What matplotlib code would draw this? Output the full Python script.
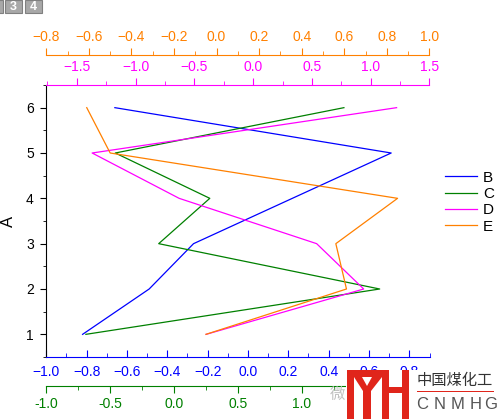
import matplotlib.pyplot as plt
from matplotlib.ticker import MultipleLocator, FuncFormatter
from matplotlib.patches import Rectangle, Polygon

plt.rcParams['font.family'] = ['Liberation Sans', 'Noto Sans CJK SC', 'DejaVu Sans']

# data: one x axis per series, A on the y axis
A = [1, 2, 3, 4, 5, 6]
B = [-0.82, -0.49, -0.27, 0.22, 0.71, -0.66]
C = [-0.69, 1.61, -0.12, 0.28, -0.46, 1.33]
D = [-0.40, 0.94, 0.54, -0.63, -1.37, 1.22]
E = [-0.05, 0.61, 0.56, 0.85, -0.50, -0.61]

BLUE = '#0000FF'
GREEN = '#008000'
MAGENTA = '#FF00FF'
ORANGE = '#FF8000'

fig = plt.figure(figsize=(4.99, 4.19), dpi=100)
W, H = 499, 419
ax = fig.add_axes([46.3 / W, 62 / H, 383.2 / W, 272 / H])

px = 0.72  # points per pixel at 100 dpi


def only_spine(a, keep, color):
    for name, sp in a.spines.items():
        sp.set_visible(name == keep)
    a.spines[keep].set_color(color)


# B on the blue bottom axis
lb, = ax.plot(B, A, color=BLUE, lw=0.9, label='B')
ax.set_xlim(-1.0, 0.9)
ax.set_ylim(0.5, 6.5)
ax.spines['top'].set_visible(False)
ax.spines['right'].set_visible(False)
ax.spines['bottom'].set_color(BLUE)
ax.xaxis.set_major_locator(MultipleLocator(0.2))
ax.xaxis.set_minor_locator(MultipleLocator(0.1))
ax.yaxis.set_major_locator(MultipleLocator(1))
ax.yaxis.set_minor_locator(MultipleLocator(0.5))
ax.tick_params(axis='x', which='both', direction='in', colors=BLUE, labelsize=10, pad=6)
ax.tick_params(axis='x', which='major', length=5)
ax.tick_params(axis='x', which='minor', length=3)
ax.tick_params(axis='y', which='major', direction='out', length=4, labelsize=10, pad=5)
ax.tick_params(axis='y', which='minor', direction='out', length=2.5)
ax.set_ylabel('A', fontsize=12)
ax.yaxis.set_label_coords(-0.079, 0.5)

# C on the green lower axis (labels past 1.0 sit under the watermark)
axc = ax.twiny()
lc, = axc.plot(C, A, color=GREEN, lw=0.9, label='C')
axc.set_xlim(-1.0, 2.0)
axc.xaxis.set_ticks_position('bottom')
axc.xaxis.set_label_position('bottom')
only_spine(axc, 'bottom', GREEN)
axc.spines['bottom'].set_position(('outward', 29 * px))
axc.xaxis.set_major_locator(MultipleLocator(0.5))
axc.xaxis.set_minor_locator(MultipleLocator(0.25))
axc.xaxis.set_major_formatter(FuncFormatter(lambda v, p: f'{v:.1f}' if v < 1.2 else ''))
axc.tick_params(axis='x', which='both', direction='out', colors=GREEN, labelsize=10, pad=3)
axc.tick_params(axis='x', which='major', length=5)
axc.tick_params(axis='x', which='minor', length=3)

# D on the magenta top axis
axd = ax.twiny()
ld, = axd.plot(D, A, color=MAGENTA, lw=0.9, label='D')
axd.set_xlim(-1.76, 1.5)
only_spine(axd, 'top', MAGENTA)
axd.xaxis.set_major_locator(MultipleLocator(0.5))
axd.xaxis.set_minor_locator(MultipleLocator(0.25))
axd.tick_params(axis='x', which='both', direction='out', colors=MAGENTA, labelsize=10, pad=3)
axd.tick_params(axis='x', which='major', length=5)
axd.tick_params(axis='x', which='minor', length=3)

# E on the orange upper axis
axe = ax.twiny()
le, = axe.plot(E, A, color=ORANGE, lw=0.9, label='E')
axe.set_xlim(-0.8, 1.0)
only_spine(axe, 'top', ORANGE)
axe.spines['top'].set_position(('outward', 30 * px))
axe.xaxis.set_major_locator(MultipleLocator(0.2))
axe.xaxis.set_minor_locator(MultipleLocator(0.1))
axe.tick_params(axis='x', which='both', direction='out', colors=ORANGE, labelsize=10, pad=3)
axe.tick_params(axis='x', which='major', length=5)
axe.tick_params(axis='x', which='minor', length=3)

fig.legend(handles=[lb, lc, ld, le], loc='upper left',
           bbox_to_anchor=(434 / W, 1 - 160 / H), frameon=False, fontsize=11,
           handlelength=2.1, handletextpad=0.4, labelspacing=0.15,
           borderpad=0.2)


def fxy(x, y):
    # figure pixel (from top-left) -> figure fraction
    return (x / W, 1 - y / H)


def box(x0, y0, w, h, color, **kw):
    fig.patches.append(Rectangle(fxy(x0, y0 + h), w / W, h / H,
                                 transform=fig.transFigure, facecolor=color, **kw))


# window buttons in the top-left corner
for x0, txt in [(-14, ''), (5, '3'), (25, '4')]:
    box(x0, 0, 17, 13, '#a8a8a8', edgecolor='#808080', lw=0.8)
    if txt:
        fig.text((x0 + 8.5) / W, 1 - 6.5 / H, txt, color='white', fontsize=9,
                 fontweight='bold', ha='center', va='center')

# watermark: white backing, red logo, company name
box(346, 370, 160, 55, 'white', edgecolor='none')
red = '#E0251B'
for x0, y0, w, h in [(347, 370, 41, 7), (347, 370, 7, 49), (363, 390, 8, 29),
                     (382, 370, 7, 49), (382, 387, 26, 6), (402, 370, 7, 49)]:
    box(x0, y0, w, h, red, edgecolor='none')
fig.patches.append(Polygon([fxy(354, 377), fxy(362, 377), fxy(367, 386),
                            fxy(372, 377), fxy(382, 377), fxy(371, 391),
                            fxy(363, 391)],
                           closed=True, transform=fig.transFigure,
                           facecolor=red, edgecolor='none'))
box(417, 390.5, 77, 1.5, red, edgecolor='none')
fig.text(455 / W, 1 - 381 / H, '中国煤化工', fontsize=11, color='#333333',
         ha='center', va='center')
for xc, ch in zip([422, 440, 457.5, 476, 491], 'CNMHG'):
    fig.text(xc / W, 1 - 404 / H, ch, fontsize=12, color='#555555',
             ha='center', va='center')
fig.text(337 / W, 1 - 395 / H, '微', fontsize=11, color='#c0c0c0',
         ha='center', va='center')

fig.savefig('out.png', dpi=100)
